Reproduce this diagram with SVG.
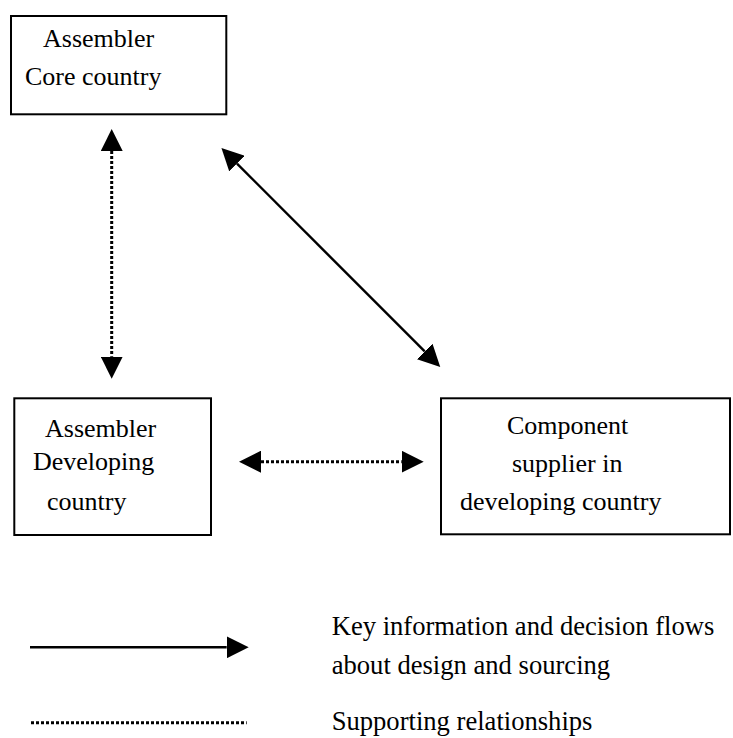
<svg xmlns="http://www.w3.org/2000/svg" width="733" height="738" viewBox="0 0 733 738">
<style>
.box{fill:#fff;stroke:#000;stroke-width:2}
.t{font-family:"Liberation Serif","Times New Roman",serif;font-size:26px;fill:#000}
.lg{font-size:26.6px}
.solid{stroke:#000;stroke-width:2.4;fill:none}
.dot{stroke:#000;stroke-width:3;fill:none;stroke-dasharray:3 2}
</style>
<defs>
<marker id="ah" viewBox="0 0 22 22" markerUnits="userSpaceOnUse" markerWidth="22" markerHeight="22" refX="0" refY="11" orient="auto-start-reverse">
<path d="M0,0 L22,11 L0,22 z" fill="#000"/>
</marker>
</defs>
<rect width="733" height="738" fill="#fff"/>
<g id="assembler-core">
<rect class="box" x="11" y="16" width="215.3" height="98.3"/>
<text class="t" x="43" y="47">Assembler</text>
<text class="t" x="25" y="85">Core country</text>
</g>
<g id="assembler-developing">
<rect class="box" x="14.3" y="398.3" width="196.7" height="136.7"/>
<text class="t" x="45" y="437">Assembler</text>
<text class="t" x="33" y="470">Developing</text>
<text class="t" x="47" y="510">country</text>
</g>
<g id="component-supplier">
<rect class="box" x="441" y="398.3" width="289" height="136"/>
<text class="t" x="507" y="434">Component</text>
<text class="t" x="512" y="472">supplier in</text>
<text class="t" x="460" y="510">developing country</text>
</g>
<g id="connectors">
<line class="dot" x1="111.7" y1="151" x2="111.7" y2="356.7" marker-start="url(#ah)" marker-end="url(#ah)"/>
<line class="solid" x1="237" y1="163.6" x2="424.7" y2="351.4" marker-start="url(#ah)" marker-end="url(#ah)"/>
<line class="dot" x1="261" y1="461.7" x2="401.7" y2="461.7" marker-start="url(#ah)" marker-end="url(#ah)"/>
</g>
<g id="legend">
<line class="solid" x1="30" y1="647.3" x2="226.7" y2="647.3" marker-end="url(#ah)"/>
<text class="t lg" x="331.7" y="635">Key information and decision flows</text>
<text class="t lg" x="331.7" y="674">about design and sourcing</text>
<line class="dot" x1="31" y1="722.7" x2="246.7" y2="722.7"/>
<text class="t lg" x="331.7" y="730">Supporting relationships</text>
</g>
</svg>
